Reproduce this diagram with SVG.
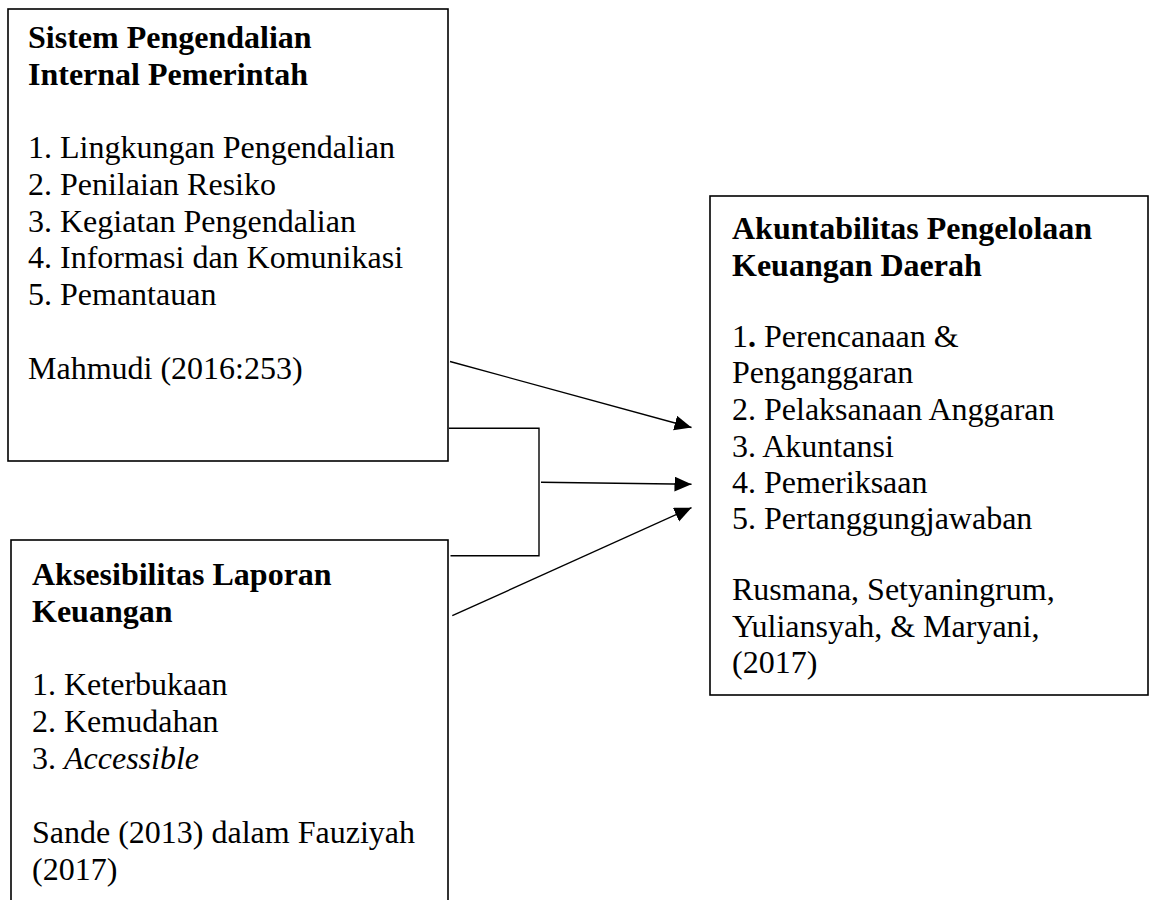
<svg xmlns="http://www.w3.org/2000/svg" width="1149" height="900" viewBox="0 0 1149 900">
<style>
.box{fill:#fff;stroke:#000;stroke-width:1.6}
.t{font-family:"Liberation Serif","Times New Roman",serif;font-size:32px;fill:#000}
.b{font-weight:bold}
.c{fill:none;stroke:#000;stroke-width:1.4}
</style>
<defs>
<marker id="ah" markerUnits="userSpaceOnUse" markerWidth="18" markerHeight="16" refX="17" refY="7.5" orient="auto">
<path d="M0,0 L17,7.5 L0,15 z" fill="#000"/>
</marker>
</defs>
<rect width="1149" height="900" fill="#fff"/>
<g id="node-spip">
<rect class="box" x="8" y="9" width="440" height="452"/>
<text class="t b" x="28" y="48">Sistem Pengendalian</text>
<text class="t b" x="28" y="85">Internal Pemerintah</text>
<text class="t" x="28" y="158">1. Lingkungan Pengendalian</text>
<text class="t" x="28" y="195">2. Penilaian Resiko</text>
<text class="t" x="28" y="232">3. Kegiatan Pengendalian</text>
<text class="t" x="28" y="268">4. Informasi dan Komunikasi</text>
<text class="t" x="28" y="305">5. Pemantauan</text>
<text class="t" x="28" y="379">Mahmudi (2016:253)</text>
</g>
<g id="node-aksesibilitas">
<rect class="box" x="11" y="540" width="437" height="380"/>
<text class="t b" x="32" y="585">Aksesibilitas Laporan</text>
<text class="t b" x="32" y="622">Keuangan</text>
<text class="t" x="32" y="695">1. Keterbukaan</text>
<text class="t" x="32" y="732">2. Kemudahan</text>
<text class="t" x="32" y="769">3. <tspan font-style="italic">Accessible</tspan></text>
<text class="t" x="32" y="843">Sande (2013) dalam Fauziyah</text>
<text class="t" x="32" y="880">(2017)</text>
</g>
<g id="node-akuntabilitas">
<rect class="box" x="710" y="196" width="438" height="499"/>
<text class="t b" x="732" y="239">Akuntabilitas Pengelolaan</text>
<text class="t b" x="732" y="276">Keuangan Daerah</text>
<text class="t" x="732" y="347">1<tspan font-weight="bold">.</tspan> Perencanaan &amp;</text>
<text class="t" x="732" y="383">Penganggaran</text>
<text class="t" x="732" y="420">2. Pelaksanaan Anggaran</text>
<text class="t" x="732" y="457">3. Akuntansi</text>
<text class="t" x="732" y="493">4. Pemeriksaan</text>
<text class="t" x="732" y="529">5. Pertanggungjawaban</text>
<text class="t" x="732" y="600">Rusmana, Setyaningrum,</text>
<text class="t" x="732" y="637">Yuliansyah, &amp; Maryani,</text>
<text class="t" x="732" y="673">(2017)</text>
</g>
<g id="connectors">
<line class="c" x1="450" y1="361.5" x2="691.5" y2="427.5" marker-end="url(#ah)"/>
<polyline class="c" points="449,428.3 539,428.3 539,555.7 450.5,555.7"/>
<line class="c" x1="541" y1="482.3" x2="691.5" y2="484.3" marker-end="url(#ah)"/>
<line class="c" x1="452.3" y1="615.7" x2="691.5" y2="507.7" marker-end="url(#ah)"/>
</g>
</svg>
